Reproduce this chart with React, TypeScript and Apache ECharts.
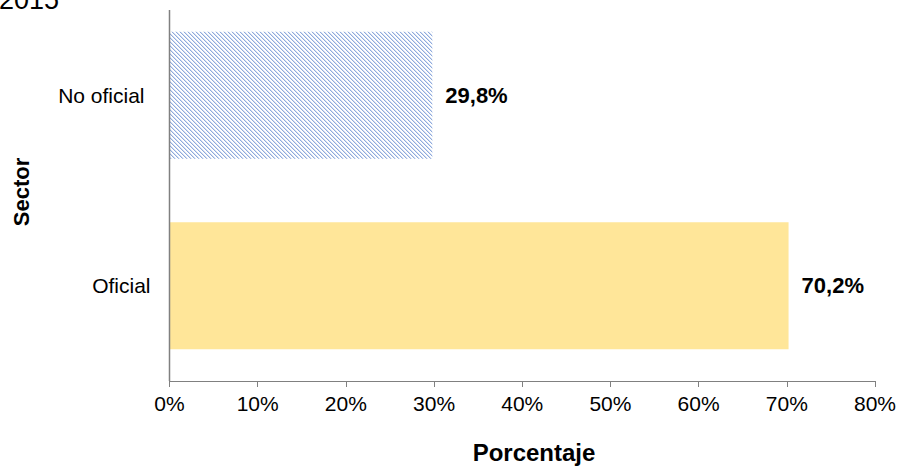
import React, { useEffect, useRef } from "react";
import * as echarts from "echarts";

const categories = ["Oficial", "No oficial"];
const values = [70.2, 29.8];
const valueLabels = ["70,2%", "29,8%"];
const xTicks = [0, 10, 20, 30, 40, 50, 60, 70, 80];
const titleText = "2015";
const xAxisTitle = "Porcentaje";
const yAxisTitle = "Sector";

const FONT = "Arial, 'Liberation Sans', sans-serif";

function makeHatch(): HTMLCanvasElement {
  const size = 8;
  const c = document.createElement("canvas");
  c.width = size;
  c.height = size;
  const ctx = c.getContext("2d")!;
  const img = ctx.createImageData(size, size);
  for (let y = 0; y < size; y++) {
    for (let x = 0; x < size; x++) {
      const m = (x - y + 16) % 4;
      let col = [255, 255, 255];
      if (m === 0) col = [143, 170, 220];
      else if (m === 1) col = [212, 223, 243];
      const i = (y * size + x) * 4;
      img.data[i] = col[0];
      img.data[i + 1] = col[1];
      img.data[i + 2] = col[2];
      img.data[i + 3] = 255;
    }
  }
  ctx.putImageData(img, 0, 0);
  return c;
}

export default function App() {
  const ref = useRef<HTMLDivElement>(null);
  useEffect(() => {
    if (!ref.current) return;
    const chart = echarts.init(ref.current, null, { renderer: "svg" });
    const hatch = {
      image: makeHatch().toDataURL(),
      repeat: "repeat",
      imageWidth: 8,
      imageHeight: 8,
    } as any;
    const colors = ["#FFE699", hatch];
    const gridLeft = 169.5;
    const gridTop = -2;
    const gridW = 705.5;
    const gridH = 383;
    chart.setOption({
      animation: false,
      grid: { left: gridLeft, top: gridTop, width: gridW, height: gridH, containLabel: false },
      xAxis: {
        type: "value",
        min: 0,
        max: 80,
        interval: 10,
        splitLine: { show: false },
        axisLine: { show: true, lineStyle: { color: "#808080", width: 1 } },
        axisTick: { show: true, length: 6, lineStyle: { color: "#808080" } },
        axisLabel: {
          color: "#000",
          fontFamily: FONT,
          fontSize: 21,
          margin: 12,
          formatter: (v: number) => (xTicks.includes(v) ? v + "%" : ""),
        },
      },
      yAxis: {
        type: "category",
        data: categories,
        axisLine: { show: false },
        axisTick: { show: false },
        axisLabel: {
          color: "#000",
          fontFamily: FONT,
          fontSize: 21,
          margin: 19,
          formatter: (v: string) => (v === "No oficial" ? "{a|" + v + "}" : "{b|" + v + "}"),
          rich: {
            a: { fontFamily: FONT, fontSize: 21, color: "#000", padding: [0, 6, 0, 0] },
            b: { fontFamily: FONT, fontSize: 21, color: "#000" },
          },
        },
      },
      series: [
        {
          type: "bar",
          barWidth: 127,
          data: values.map((v, i) => ({
            value: v,
            itemStyle: { color: colors[i] },
            label: { formatter: valueLabels[i] },
          })),
          label: {
            show: true,
            position: "right",
            distance: 13,
            color: "#000",
            fontFamily: FONT,
            fontWeight: "bold",
            fontSize: 22,
          },
        },
      ],
      graphic: [
        {
          type: "line",
          shape: { x1: 169.5, y1: 10, x2: 169.5, y2: 381 },
          style: { stroke: "#808080", lineWidth: 1.5 },
          z: 100,
        },
        {
          type: "text",
          x: -1,
          y: 0,
          style: {
            text: titleText,
            font: "27px " + FONT,
            fill: "#000",
            verticalAlign: "middle",
            align: "left",
          },
        },
        {
          type: "text",
          x: 534,
          y: 452,
          style: {
            text: xAxisTitle,
            font: "bold 24px " + FONT,
            fill: "#000",
            align: "center",
            verticalAlign: "middle",
          },
        },
        {
          type: "text",
          x: 21,
          y: 192,
          rotation: Math.PI / 2,
          style: {
            text: yAxisTitle,
            font: "bold 22px " + FONT,
            fill: "#000",
            align: "center",
            verticalAlign: "middle",
          },
        },
      ],
    });
    return () => chart.dispose();
  }, []);
  return (
    <div
      ref={ref}
      style={{ position: "fixed", left: 0, top: 0, width: 899, height: 466, background: "#fff" }}
    />
  );
}
